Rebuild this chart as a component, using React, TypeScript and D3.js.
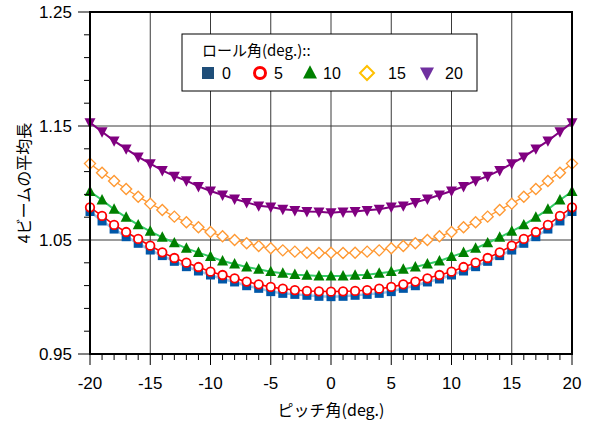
import React from "react";
import * as d3 from "d3";

// Pitch angles (deg.)
const pitch: number[] = d3.range(-20, 21, 1);

// Mean length of the four beams for each roll angle (deg.)
const roll0: number[] = [
  1.075, 1.0667, 1.0596, 1.0529, 1.0471, 1.0412, 1.0363, 1.0313, 1.0266, 1.0228,
  1.0193, 1.0158, 1.0132, 1.0099, 1.0076, 1.0047, 1.0032, 1.0023, 1.0015, 1.0006,
  1.0003,
  1.0006, 1.0015, 1.0023, 1.0032, 1.0047, 1.0076, 1.0099, 1.0132, 1.0158, 1.0193,
  1.0228, 1.0266, 1.0313, 1.0363, 1.0412, 1.0471, 1.0529, 1.0596, 1.0667, 1.075,
];
const roll5: number[] = [
  1.0787, 1.0711, 1.0632, 1.057, 1.0509, 1.045, 1.0392, 1.0342, 1.0301, 1.0263,
  1.0222, 1.0193, 1.0164, 1.0135, 1.0111, 1.0088, 1.0073, 1.0061, 1.0053, 1.005,
  1.0047,
  1.005, 1.0053, 1.0061, 1.0073, 1.0088, 1.0111, 1.0135, 1.0164, 1.0193, 1.0222,
  1.0263, 1.0301, 1.0342, 1.0392, 1.045, 1.0509, 1.057, 1.0632, 1.0711, 1.0787,
];
const roll10: number[] = [
  1.0924, 1.0851, 1.0769, 1.0699, 1.0632, 1.0576, 1.0523, 1.0474, 1.0427, 1.0389,
  1.0354, 1.0316, 1.0289, 1.0263, 1.0243, 1.0222, 1.0208, 1.0196, 1.019, 1.0184,
  1.0184,
  1.0184, 1.019, 1.0196, 1.0208, 1.0222, 1.0243, 1.0263, 1.0289, 1.0316, 1.0354,
  1.0389, 1.0427, 1.0474, 1.0523, 1.0576, 1.0632, 1.0699, 1.0769, 1.0851, 1.0924,
];
const roll15: number[] = [
  1.117, 1.109, 1.1018, 1.0947, 1.088, 1.0819, 1.0763, 1.0705, 1.0655, 1.0611,
  1.057, 1.0532, 1.05, 1.0471, 1.0447, 1.0427, 1.0409, 1.0398, 1.0389, 1.0386,
  1.0389,
  1.0386, 1.0389, 1.0398, 1.0409, 1.0427, 1.0447, 1.0471, 1.05, 1.0532, 1.057,
  1.0611, 1.0655, 1.0705, 1.0763, 1.0819, 1.088, 1.0947, 1.1018, 1.109, 1.117,
];
const roll20: number[] = [
  1.153, 1.145, 1.137, 1.13, 1.123, 1.117, 1.111, 1.106, 1.102, 1.097,
  1.093, 1.0895, 1.086, 1.083, 1.08, 1.079, 1.077, 1.076, 1.075, 1.0747,
  1.074,
  1.0747, 1.075, 1.076, 1.077, 1.079, 1.08, 1.083, 1.086, 1.0895, 1.093,
  1.097, 1.102, 1.106, 1.111, 1.117, 1.123, 1.13, 1.137, 1.145, 1.153,
];

const rollLabels: string[] = ["0", "5", "10", "15", "20"];
const xTicks: number[] = [-20, -15, -10, -5, 0, 5, 10, 15, 20];
const yTicks: number[] = [0.95, 1.05, 1.15, 1.25];

const W = 595;
const H = 428;
const plot = { left: 90, right: 572, top: 12, bottom: 354 };
const FONT = "'Liberation Sans', Arial, 'Noto Sans CJK JP', sans-serif";
const JFONT = "'Noto Sans CJK JP', 'Liberation Sans', sans-serif";

type Shape = "square" | "circle" | "triangle" | "diamond" | "down";

interface SeriesStyle {
  values: number[];
  shape: Shape;
  line: string;
  lineWidth: number;
  fill: string;
  stroke: string;
  strokeWidth: number;
  size: number;
  legendFill: string;
  legendStroke: string;
}

const series: SeriesStyle[] = [
  { values: roll0, shape: "square", line: "#9DC3E6", lineWidth: 2.5, fill: "#0057A8", stroke: "none", strokeWidth: 0, size: 9, legendFill: "#1F4E79", legendStroke: "none" },
  { values: roll5, shape: "circle", line: "#FF0000", lineWidth: 1.6, fill: "#FFFFFF", stroke: "#FF0000", strokeWidth: 1.8, size: 8.5, legendFill: "#FFFFFF", legendStroke: "#FF0000" },
  { values: roll10, shape: "triangle", line: "#33CC66", lineWidth: 2, fill: "#008000", stroke: "none", strokeWidth: 0, size: 11, legendFill: "#008000", legendStroke: "none" },
  { values: roll15, shape: "diamond", line: "#FF9933", lineWidth: 1.3, fill: "#FFFFFF", stroke: "#FF9933", strokeWidth: 1.4, size: 11, legendFill: "#FFFFFF", legendStroke: "#FFC000" },
  { values: roll20, shape: "down", line: "#800080", lineWidth: 2, fill: "#800080", stroke: "none", strokeWidth: 0, size: 11, legendFill: "#7030A0", legendStroke: "none" },
];

function markerPath(shape: Shape, s: number): string | null {
  const h = s / 2;
  switch (shape) {
    case "triangle":
      return `M0,${-h * 1.1}L${h},${h * 0.8}L${-h},${h * 0.8}Z`;
    case "down":
      return `M0,${h * 1.1}L${h},${-h * 0.8}L${-h},${-h * 0.8}Z`;
    case "diamond":
      return `M0,${-h}L${h},0L0,${h}L${-h},0Z`;
    default:
      return null;
  }
}

function Marker({ shape, x, y, size, fill, stroke, strokeWidth }: {
  shape: Shape; x: number; y: number; size: number; fill: string; stroke: string; strokeWidth: number;
}) {
  if (shape === "square") {
    return <rect x={x - size / 2} y={y - size / 2} width={size} height={size} fill={fill} stroke={stroke} />;
  }
  if (shape === "circle") {
    return <circle cx={x} cy={y} r={size / 2} fill={fill} stroke={stroke} strokeWidth={strokeWidth} />;
  }
  return (
    <path
      d={markerPath(shape, size) as string}
      transform={`translate(${x},${y})`}
      fill={fill}
      stroke={stroke}
      strokeWidth={strokeWidth}
      strokeLinejoin="miter"
    />
  );
}

export default function App() {
  const x = d3.scaleLinear().domain([-20, 20]).range([plot.left, plot.right]);
  const y = d3.scaleLinear().domain([0.95, 1.25]).range([plot.bottom, plot.top]);

  const line = d3
    .line<number>()
    .x((_, i) => x(pitch[i]))
    .y((v) => y(v));

  const xMinor = d3.range(-20, 21, 1).filter((v) => v % 5 !== 0);
  const yMinor = d3.range(0.97, 1.24, 0.02).filter((v) => Math.abs(((v - 0.95) / 0.1) - Math.round((v - 0.95) / 0.1)) > 1e-6);

  const legendY = 73;
  const legendItems = [
    { mx: 208, tx: 222 },
    { mx: 260, tx: 274 },
    { mx: 310, tx: 323 },
    { mx: 367, tx: 388 },
    { mx: 427, tx: 445 },
  ];

  return (
    <svg
      width={W}
      height={H}
      viewBox={`0 0 ${W} ${H}`}
      style={{ position: "absolute", left: 0, top: 0, background: "#fff" }}
    >
      <rect x={0} y={0} width={W} height={H} fill="#fff" />

      {/* grid */}
      {xTicks.slice(1, -1).map((t) => (
        <line key={`gx${t}`} x1={x(t)} x2={x(t)} y1={plot.top} y2={plot.bottom} stroke="#3a3a3a" strokeWidth={1} />
      ))}
      {yTicks.slice(1, -1).map((t) => (
        <line key={`gy${t}`} x1={plot.left} x2={plot.right} y1={y(t)} y2={y(t)} stroke="#3a3a3a" strokeWidth={1} />
      ))}

      {/* series lines */}
      {series.map((s, i) => (
        <path key={`l${i}`} d={line(s.values) as string} fill="none" stroke={s.line} strokeWidth={s.lineWidth} />
      ))}
      {/* series markers */}
      {series.map((s, i) => (
        <g key={`m${i}`}>
          {s.values.map((v, j) => (
            <Marker
              key={j}
              shape={s.shape}
              x={x(pitch[j])}
              y={y(v)}
              size={s.size}
              fill={s.fill}
              stroke={s.stroke}
              strokeWidth={s.strokeWidth}
            />
          ))}
        </g>
      ))}

      {/* frame */}
      <rect x={plot.left} y={plot.top} width={plot.right - plot.left} height={plot.bottom - plot.top} fill="none" stroke="#000" strokeWidth={2} />

      {/* x axis ticks */}
      {xMinor.map((t) => (
        <line key={`xm${t}`} x1={x(t)} x2={x(t)} y1={plot.bottom} y2={plot.bottom + 6} stroke="#000" strokeWidth={1} />
      ))}
      {xTicks.map((t) => (
        <g key={`xt${t}`}>
          <line x1={x(t)} x2={x(t)} y1={plot.bottom} y2={plot.bottom + 11} stroke="#000" strokeWidth={1} />
          <text x={x(t)} y={389} textAnchor="middle" fontFamily={FONT} fontSize={17} fill="#000">
            {t}
          </text>
        </g>
      ))}

      {/* y axis ticks */}
      {yMinor.map((t) => (
        <line key={`ym${t}`} x1={plot.left - 6} x2={plot.left} y1={y(t)} y2={y(t)} stroke="#000" strokeWidth={1} />
      ))}
      {yTicks.map((t) => (
        <g key={`yt${t}`}>
          <line x1={plot.left - 12} x2={plot.left} y1={y(t)} y2={y(t)} stroke="#000" strokeWidth={1} />
          <text x={72} y={y(t) + 6} textAnchor="end" fontFamily={FONT} fontSize={17} fill="#000">
            {d3.format(".2f")(t)}
          </text>
        </g>
      ))}

      {/* axis titles */}
      <text x={331} y={416} textAnchor="middle" fontFamily={JFONT} fontSize={16} fill="#000">
        ピッチ角(deg.)
      </text>
      <text
        transform={`translate(30,${(plot.top + plot.bottom) / 2}) rotate(-90)`}
        textAnchor="middle"
        fontFamily={JFONT}
        fontSize={16}
        fill="#000"
      >
        4ビームの平均長
      </text>

      {/* legend */}
      <rect x={182} y={34} width={295} height={57} fill="#fff" stroke="#000" strokeWidth={1} />
      <text x={202} y={56} fontFamily={JFONT} fontSize={15} fill="#000">
        ロール角(deg.)::
      </text>
      {series.map((s, i) => (
        <g key={`lg${i}`}>
          <Marker
            shape={s.shape}
            x={legendItems[i].mx}
            y={legendY}
            size={s.shape === "circle" ? 11 : s.shape === "square" ? 12 : 14}
            fill={s.legendFill}
            stroke={s.legendStroke}
            strokeWidth={s.shape === "circle" ? 3 : 2}
          />
          <text x={legendItems[i].tx} y={legendY + 6} fontFamily={FONT} fontSize={16} fill="#000">
            {rollLabels[i]}
          </text>
        </g>
      ))}
    </svg>
  );
}
